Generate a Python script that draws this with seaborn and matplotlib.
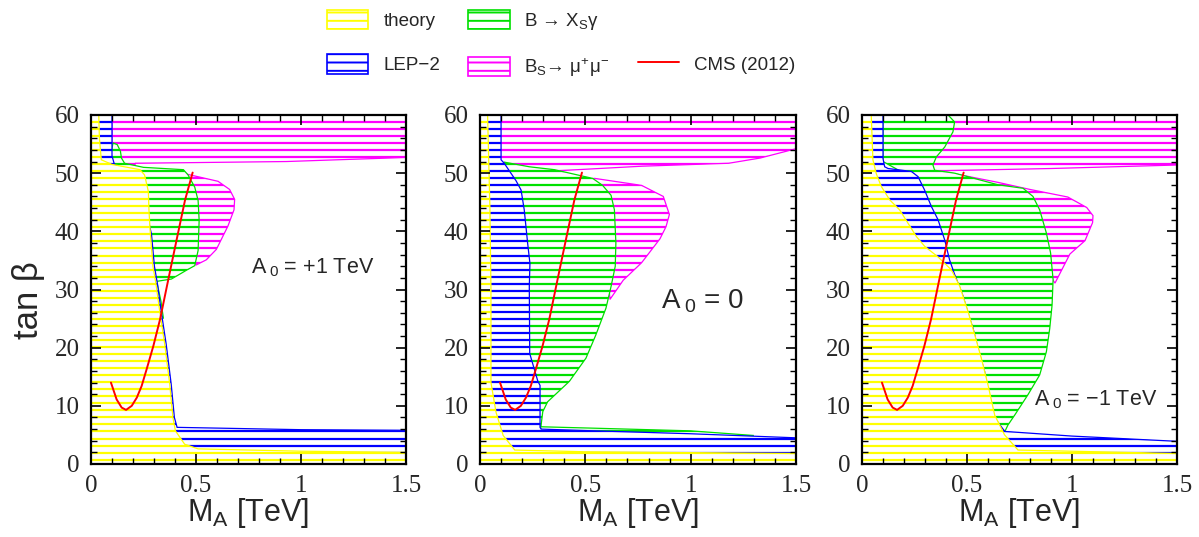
import numpy as np
import matplotlib
matplotlib.use("Agg")
import matplotlib.pyplot as plt
from matplotlib.patches import Polygon, Rectangle
from matplotlib.lines import Line2D
from matplotlib.ticker import MultipleLocator
import seaborn as sns

# ---- data (M_A in TeV, tan beta) ----
x_ticks = [0, 0.5, 1, 1.5]
x_ticklabels = ["0", "0.5", "1", "1.5"]
y_ticks = [0, 10, 20, 30, 40, 50, 60]
y_ticklabels = ["0", "10", "20", "30", "40", "50", "60"]

panel_labels = ["A$_{\\;0}$ = +1 TeV", "A$_{\\;0}$ = 0", "A$_{\\;0}$ = −1 TeV"]
label_x = [0.76, 0.86, 0.82]
label_y = [33.8, 28.0, 11.0]
label_size = [15.5, 20, 15.5]

# CMS (2012) exclusion curve, same in every panel
cms_x = [0.095, 0.122, 0.146, 0.167, 0.194, 0.218, 0.241, 0.265, 0.297, 0.329, 0.368, 0.408, 0.448, 0.484]
cms_y = [14.0, 11.1, 9.7, 9.3, 10.0, 11.4, 13.4, 16.3, 20.3, 24.9, 31.7, 38.6, 45.4, 50.1]

# panel 1 : A0 = +1 TeV
theory1_x = [0, 1.5, 1.5, 1.0, 0.51, 0.446, 0.402, 0.39, 0.375, 0.351, 0.327, 0.31, 0.295, 0.281, 0.276, 0.273, 0.255, 0.233, 0.10, 0.049, 0.04, 0.037, 0]
theory1_y = [0, 0, 2.0, 2.2, 2.6, 3.4, 5.7, 8.0, 13.7, 20.6, 26.3, 30.8, 34.0, 40.4, 43.7, 46.9, 49.7, 50.6, 51.5, 52.3, 56.0, 60, 60]
lep1_x = [0, 1.5, 1.5, 1.0, 0.41, 0.397, 0.382, 0.358, 0.334, 0.317, 0.302, 0.288, 0.26, 0.2, 0.115, 0.109, 0.1, 0.1, 0]
lep1_y = [0, 0, 5.8, 5.9, 6.3, 8.0, 13.7, 20.6, 26.3, 30.8, 34.0, 39.5, 44.0, 50.3, 51.4, 51.8, 53.0, 60, 60]
bsg1_x = [0.105, 0.125, 0.14, 0.145, 0.16, 0.25, 0.44, 0.462, 0.494, 0.51, 0.515, 0.51, 0.494, 0.454, 0.383, 0.313, 0.333, 0.345, 0.25, 0.09]
bsg1_y = [55.2, 54.9, 53.8, 52.6, 51.7, 51.0, 50.6, 49.7, 47.6, 45.3, 41.9, 36.7, 34.1, 33.3, 31.8, 31.4, 28.0, 25.0, 30.0, 52.5]
bsmm1_band_x = [0.1, 0.21, 0.21, 0.93, 1.5, 1.5, 0.1]
bsmm1_band_y = [51.4, 51.4, 51.7, 52.0, 52.7, 60, 60]
bsmm1_lobe_x = [0.44, 0.46, 0.605, 0.66, 0.684, 0.681, 0.652, 0.597, 0.549, 0.50, 0.45]
bsmm1_lobe_y = [50.3, 49.8, 48.6, 47.2, 45.5, 43.7, 40.9, 36.9, 35.1, 34.2, 40.0]

# panel 2 : A0 = 0
theory2_x = [0, 1.5, 1.5, 0.5, 0.165, 0.11, 0.076, 0.052, 0.052, 0.047, 0.036, 0]
theory2_y = [0, 0, 1.8, 2.1, 2.4, 4.9, 8.9, 14.0, 30.0, 44.0, 60, 60]
lep2_x = [0, 1.5, 1.5, 1.0, 0.5, 0.29, 0.285, 0.285, 0.274, 0.236, 0.234, 0.237, 0.226, 0.21, 0.195, 0.171, 0.115, 0.1, 0.1, 0]
lep2_y = [0, 0, 4.5, 5.2, 5.75, 6.0, 6.3, 13.5, 14.3, 19.0, 30.5, 34.5, 38.0, 43.7, 47.1, 48.7, 51.7, 52.3, 60, 60]
bsg2_x = [0.115, 0.234, 0.353, 0.535, 0.582, 0.622, 0.638, 0.645, 0.642, 0.622, 0.598, 0.55, 0.503, 0.424, 0.321, 0.298, 0.29, 0.29, 0.6, 1.0, 1.3, 1.0, 0.3, 0.2, 0.15, 0.1]
bsg2_y = [51.9, 51.1, 50.6, 49.1, 47.9, 46.2, 43.7, 38.0, 34.0, 30.5, 26.8, 22.2, 18.2, 14.2, 10.7, 9.0, 6.7, 6.4, 6.1, 5.7, 4.9, 4.6, 5.0, 15.0, 35.0, 51.0]
bsmm2_band_x = [0.09, 0.36, 0.77, 1.18, 1.33, 1.5, 1.5, 0.09]
bsmm2_band_y = [51.5, 50.4, 51.2, 51.7, 52.6, 54.2, 60, 60]
bsmm2_lobe_x = [0.5, 0.545, 0.767, 0.87, 0.899, 0.883, 0.854, 0.767, 0.68, 0.617, 0.6]
bsmm2_lobe_y = [49.0, 49.1, 47.9, 46.0, 42.9, 40.8, 38.7, 34.6, 31.6, 28.3, 35.0]

# panel 3 : A0 = -1 TeV
theory3_x = [0, 1.5, 1.5, 0.743, 0.679, 0.632, 0.6, 0.568, 0.537, 0.505, 0.465, 0.425, 0.362, 0.299, 0.259, 0.219, 0.179, 0.132, 0.092, 0.068, 0.052, 0.044, 0]
theory3_y = [0, 0, 1.8, 2.4, 5.0, 8.4, 13.6, 18.2, 22.2, 26.2, 30.6, 33.4, 35.6, 37.4, 39.1, 41.4, 43.7, 45.4, 47.7, 49.9, 52.3, 60, 60]
lep3_x = [0, 1.5, 1.5, 1.0, 0.68, 0.632, 0.608, 0.584, 0.552, 0.529, 0.513, 0.48, 0.441, 0.417, 0.394, 0.362, 0.33, 0.298, 0.267, 0.235, 0.124, 0.108, 0.1, 0.1, 0]
lep3_y = [0, 0, 3.9, 4.8, 5.6, 7.9, 10.7, 15.9, 19.9, 23.3, 25.0, 29.0, 32.6, 35.1, 38.5, 42.0, 44.3, 47.1, 49.4, 50.3, 50.8, 51.1, 52.5, 60, 60]
bsg3_x = [0.1, 0.41, 0.441, 0.433, 0.394, 0.354, 0.338, 0.346, 0.441, 0.648, 0.767, 0.814, 0.846, 0.878, 0.898, 0.91, 0.905, 0.894, 0.878, 0.846, 0.79, 0.727, 0.695, 0.679,
          0.62, 0.595, 0.57, 0.54, 0.5, 0.43, 0.38, 0.3, 0.2, 0.1]
bsg3_y = [60, 60, 58.8, 57.1, 54.5, 52.8, 51.4, 50.5, 50.0, 48.0, 47.4, 46.0, 43.7, 39.7, 36.3, 31.7, 27.3, 23.3, 19.3, 15.3, 11.9, 8.4, 6.7, 5.5,
          8.0, 11.0, 16.0, 20.0, 25.0, 33.0, 38.5, 45.0, 50.0, 52.0]
bsmm3_band_x = [0.3, 0.35, 0.9, 1.5, 1.5, 0.3]
bsmm3_band_y = [50.3, 50.4, 50.8, 51.4, 60, 60]
bsmm3_lobe_x = [0.4, 0.65, 0.8, 0.98, 1.07, 1.1, 1.098, 1.062, 0.99, 0.919, 0.85, 0.7]
bsmm3_lobe_y = [50.2, 48.4, 47.2, 45.9, 44.1, 42.7, 41.5, 38.4, 36.1, 31.1, 35.0, 45.0]

# ---- style ----
sns.set_theme(style="ticks")
plt.rcParams["font.family"] = ["Liberation Sans", "DejaVu Sans"]
plt.rcParams["mathtext.fontset"] = "custom"
plt.rcParams["mathtext.rm"] = "Liberation Sans"
plt.rcParams["mathtext.it"] = "Liberation Sans:italic"
plt.rcParams["hatch.linewidth"] = 1.4

YELLOW = "#ffff00"
BLUE = "#0000ff"
GREEN = "#00e000"
MAGENTA = "#ff00ff"
RED = "#ff0000"

hatch_y = np.arange(0.75, 60, 1.21)


def hatched(ax, xs, ys, color, z):
    poly = Polygon(np.column_stack([xs, ys]), closed=True, facecolor="white",
                   edgecolor=color, lw=0.9, zorder=z)
    ax.add_patch(poly)
    hl = ax.hlines(hatch_y, 0, 1.5, colors=color, lw=1.6, zorder=z + 0.05)
    hl.set_clip_path(poly)


panels = [
    dict(theory=(theory1_x, theory1_y), lep=(lep1_x, lep1_y), bsg=(bsg1_x, bsg1_y),
         band=(bsmm1_band_x, bsmm1_band_y), lobe=(bsmm1_lobe_x, bsmm1_lobe_y)),
    dict(theory=(theory2_x, theory2_y), lep=(lep2_x, lep2_y), bsg=(bsg2_x, bsg2_y),
         band=(bsmm2_band_x, bsmm2_band_y), lobe=(bsmm2_lobe_x, bsmm2_lobe_y)),
    dict(theory=(theory3_x, theory3_y), lep=(lep3_x, lep3_y), bsg=(bsg3_x, bsg3_y),
         band=(bsmm3_band_x, bsmm3_band_y), lobe=(bsmm3_lobe_x, bsmm3_lobe_y)),
]

W, H = 1199, 537
fig = plt.figure(figsize=(W / 100, H / 100), dpi=100)
lefts = [91, 480, 862]
widths = [315, 316, 315]

for i, p in enumerate(panels):
    ax = fig.add_axes([lefts[i] / W, (H - 464) / H, widths[i] / W, (464 - 115) / H])
    ax.set_xlim(0, 1.5)
    ax.set_ylim(0, 60)

    hatched(ax, *p["band"], MAGENTA, 1.0)
    hatched(ax, *p["lobe"], MAGENTA, 1.1)
    hatched(ax, *p["bsg"], GREEN, 1.2)
    hatched(ax, *p["lep"], BLUE, 1.3)
    hatched(ax, *p["theory"], YELLOW, 1.4)

    sns.lineplot(x=cms_x, y=cms_y, ax=ax, color=RED, lw=1.4, sort=False,
                 estimator=None, zorder=2)

    ax.text(label_x[i], label_y[i], panel_labels[i], fontsize=label_size[i],
            va="center", ha="left", zorder=3)

    ax.set_xticks(x_ticks)
    ax.set_xticklabels(x_ticklabels)
    ax.set_yticks(y_ticks)
    ax.set_yticklabels(y_ticklabels)
    ax.xaxis.set_minor_locator(MultipleLocator(0.1))
    ax.yaxis.set_minor_locator(MultipleLocator(2))
    ax.set_axisbelow(False)
    ax.tick_params(which="both", direction="in", top=True, right=True,
                   color="black", labelfontfamily="Liberation Serif")
    ax.tick_params(which="major", length=7, width=1.2, labelsize=18, pad=8)
    ax.tick_params(which="minor", length=4, width=1.0)
    for sp in ax.spines.values():
        sp.set_color("black")
        sp.set_linewidth(1.6)
        sp.set_zorder(5)

    ax.set_xlabel("M$_{\\rm A}$ [TeV]", fontsize=22, labelpad=-1)
    if i == 0:
        ax.set_ylabel("tan β", fontsize=25)
        ax.yaxis.set_label_coords(-0.145, 0.47)

# ---- legend ----
h_theory = Rectangle((0, 0), 1, 1, facecolor="white", edgecolor=YELLOW, hatch="--", lw=1.2)
h_lep = Rectangle((0, 0), 1, 1, facecolor="white", edgecolor=BLUE, hatch="--", lw=1.2)
h_bsg = Rectangle((0, 0), 1, 1, facecolor="white", edgecolor=GREEN, hatch="--", lw=1.2)
h_bsmm = Rectangle((0, 0), 1, 1, facecolor="white", edgecolor=MAGENTA, hatch="--", lw=1.2)
h_blank = Line2D([], [], color="none")
h_cms = Line2D([], [], color=RED, lw=1.4)

fig.legend(handles=[h_theory, h_lep, h_bsg, h_bsmm, h_blank, h_cms],
           labels=["theory", "LEP−2", "B → X$_{\\rm S}$γ", "B$_{\\rm S}$→ μ$^{+}$μ$^{-}$", "", "CMS (2012)"],
           ncol=3, loc="upper left", bbox_to_anchor=(327 / W, 1 - 10 / H),
           frameon=False, fontsize=13.5, handlelength=2.2, handleheight=1.2,
           handletextpad=0.8, columnspacing=1.5, labelspacing=1.3,
           borderpad=0, borderaxespad=0)

fig.savefig("out.png", dpi=100)
